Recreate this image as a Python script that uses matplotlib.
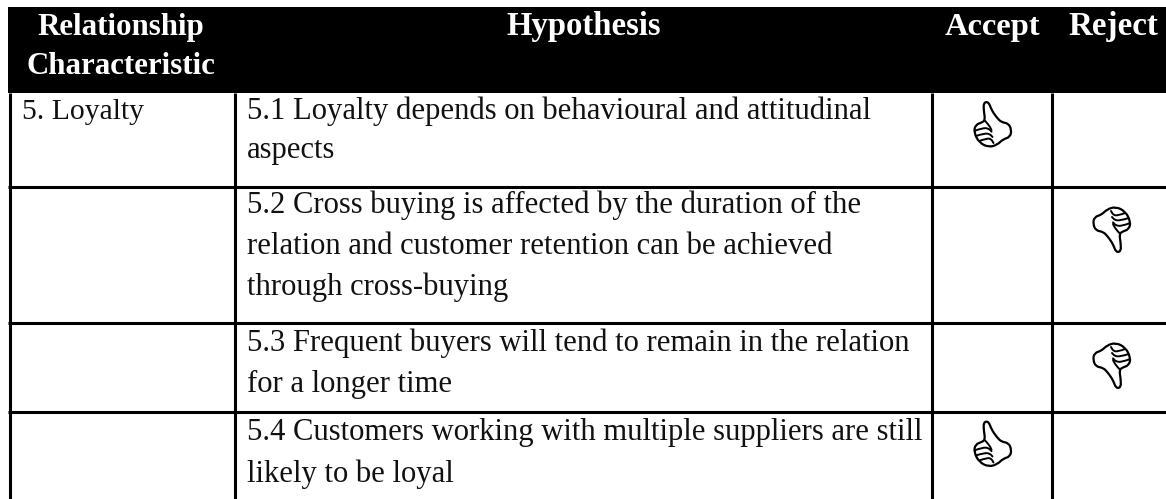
import matplotlib
matplotlib.use("Agg")
import matplotlib.pyplot as plt
from matplotlib.patches import PathPatch, Rectangle
from matplotlib.path import Path
import numpy as np

headers = ["Relationship\nCharacteristic", "Hypothesis", "Accept", "Reject"]
characteristics = ["5. Loyalty", "", "", ""]
hypotheses = [
    ["5.1 Loyalty depends on behavioural and attitudinal", "aspects"],
    ["5.2 Cross buying is affected by the duration of the",
     "relation and customer retention can be achieved",
     "through cross-buying"],
    ["5.3 Frequent buyers will tend to remain in the relation",
     "for a longer time"],
    ["5.4 Customers working with multiple suppliers are still",
     "likely to be loyal"],
]
verdicts = ["accept", "reject", "reject", "accept"]

W, H = 1166, 499
col_edges = [9.5, 235, 931.5, 1052]
row_edges = [93, 186.5, 322.5, 412, 499]
col_centres = [121, 584, 992.5, 1113]
header_baselines = [[34.5, 74], [34.5], [34.5], [34.5]]
header_sizes = [22.2, 23.6, 23.4, 23.8]
body_baselines = [[119, 158], [213, 254, 295], [351, 392], [440, 482]]
BODY = 22.1
FIRST_COL = 21.4
serif = ["Liberation Serif", "DejaVu Serif"]

fig = plt.figure(figsize=(W / 100, H / 100), dpi=100)
ax = fig.add_axes([0, 0, 1, 1])
ax.set_xlim(0, W)
ax.set_ylim(H, 0)
ax.axis("off")

ax.add_patch(Rectangle((8, 7), W - 8, 86, fc="black", ec="none"))

for x in col_edges:
    ax.plot([x, x], [93, H], color="black", lw=2.2, solid_capstyle="butt")
for y in row_edges[1:-1]:
    ax.plot([8, W], [y, y], color="black", lw=2.2, solid_capstyle="butt")

for label, cx, baselines, size in zip(headers, col_centres, header_baselines, header_sizes):
    for part, y in zip(label.split("\n"), baselines):
        ax.text(cx, y, part, color="white", family=serif, weight="bold",
                fontsize=size, ha="center", va="baseline")

for text, ys in zip(characteristics, body_baselines):
    if text:
        ax.text(22, ys[0], text, family=serif, fontsize=FIRST_COL, color="#111111",
                va="baseline")

for lines, ys in zip(hypotheses, body_baselines):
    for line, y in zip(lines, ys):
        ax.text(247, y, line, family=serif, fontsize=BODY, color="#111111",
                va="baseline")

outline = np.array([
    (-27, -70), (-12, -73), (-3, -48), (13, -25), (27, -11), (48, -8), (57, 12),
    (53, 33), (31, 40), (15, 56), (-11, 64), (-40, 50), (-56, 19), (-51, -4),
    (-30, -11), (-22, -19), (-26, -44),
], dtype=float) / 3
finger_lines = [
    np.array([(-52, 14), (-30, 6), (-12, 7), (-3, 17)], dtype=float) / 3,
    np.array([(-47, 29), (-24, 22), (-8, 24), (0, 33)], dtype=float) / 3,
    np.array([(-37, 44), (-16, 37), (-4, 39), (3, 51)], dtype=float) / 3,
    np.array([(-22, -15), (-10, -2), (-3, 12)], dtype=float) / 3,
]


def closed_curve(p):
    mids = (p + np.roll(p, -1, axis=0)) / 2
    verts = [mids[-1]]
    codes = [Path.MOVETO]
    for i in range(len(p)):
        verts += [p[i], mids[i]]
        codes += [Path.CURVE3, Path.CURVE3]
    return verts, codes


def open_curve(p):
    verts = [p[0]]
    codes = [Path.MOVETO]
    for i in range(1, len(p) - 1):
        verts += [p[i], (p[i] + p[i + 1]) / 2]
        codes += [Path.CURVE3, Path.CURVE3]
    verts.append(p[-1])
    codes.append(Path.LINETO)
    return verts, codes


def draw_hand(cx, cy, sign):
    verts, codes = closed_curve(outline * sign + (cx, cy))
    ax.add_patch(PathPatch(Path(verts, codes), fc="white", ec="black", lw=1.6,
                           joinstyle="round"))
    for f in finger_lines:
        v, c = open_curve(f * sign + (cx, cy))
        ax.add_patch(PathPatch(Path(v, c), fc="none", ec="black", lw=1.4,
                               capstyle="round"))


hand_y = [126, 228, 364, 445.5]
for verdict, cy in zip(verdicts, hand_y):
    if verdict == "accept":
        draw_hand(992.5, cy, 1)
    else:
        draw_hand(1112, cy, -1)

fig.savefig("out.png", dpi=100)
